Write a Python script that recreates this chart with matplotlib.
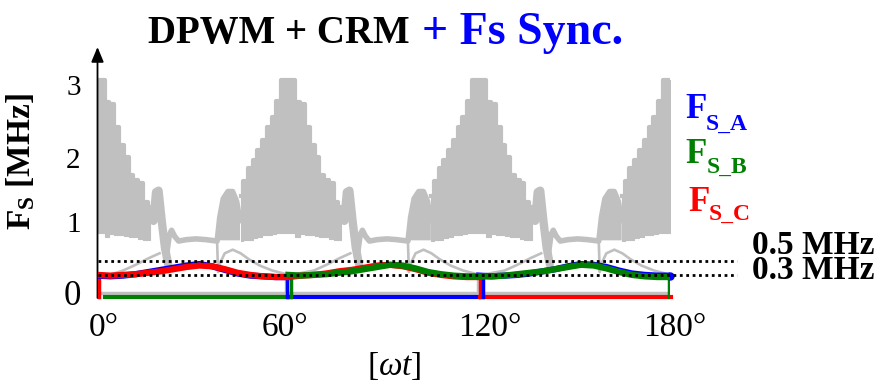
import numpy as np
import matplotlib.pyplot as plt

plt.rcParams["font.family"] = ["Liberation Serif", "DejaVu Serif"]
plt.rcParams["mathtext.fontset"] = "custom"
plt.rcParams["mathtext.rm"] = "Liberation Serif"
plt.rcParams["mathtext.it"] = "Liberation Serif:italic"
plt.rcParams["mathtext.bf"] = "Liberation Serif:bold"

nan = np.nan
W, H = 880, 385

# ---- gray: CRM switching frequency (MHz) over wt (deg) ----
comb0_deg = [0, 1.5, 3, 4.5, 6, 7.5, 9, 10.5, 12, 13.5, 15, 16.5]
comb0_top = [3.01, 3.01, 2.70, 2.68, 2.35, 2.10, 1.94, 1.69, 1.62, 1.58, 1.31, 1.24]
comb0_bot = [0.88, 0.88, 0.83, 0.87, 0.86, 0.85, 0.84, 0.83, 0.82, 0.80, 0.79, 0.78]

comb60_deg = [45, 46.5, 48, 49.5, 51, 52.5, 54, 55.5, 57, 58.5, 60, 61.5,
              63, 64.5, 66, 67.5, 69, 70.5, 72, 73.5, 75, 76.5]
comb60_top = [1.40, 1.60, 1.78, 1.90, 2.03, 2.17, 2.35, 2.50, 2.72, 3.01, 3.01, 3.01,
              2.70, 2.68, 2.35, 2.10, 1.94, 1.69, 1.62, 1.58, 1.31, 1.24]
comb60_bot = [0.77, 0.78, 0.79, 0.81, 0.83, 0.85, 0.86, 0.87, 0.88, 0.88, 0.88, 0.88,
              0.83, 0.87, 0.86, 0.85, 0.84, 0.83, 0.82, 0.80, 0.79, 0.78]

comb120_deg = [105, 106.5, 108, 109.5, 111, 112.5, 114, 115.5, 117, 118.5, 120, 121.5,
               123, 124.5, 126, 127.5, 129, 130.5, 132, 133.5, 135, 136.5]
comb120_top = [1.40, 1.60, 1.78, 1.90, 2.03, 2.17, 2.35, 2.50, 2.72, 3.01, 3.01, 3.01,
               2.70, 2.68, 2.35, 2.10, 1.94, 1.69, 1.62, 1.58, 1.31, 1.24]
comb120_bot = [0.77, 0.78, 0.79, 0.81, 0.83, 0.85, 0.86, 0.87, 0.88, 0.88, 0.88, 0.88,
               0.83, 0.87, 0.86, 0.85, 0.84, 0.83, 0.82, 0.80, 0.79, 0.78]

comb180_deg = [165, 166.5, 168, 169.5, 171, 172.5, 174, 175.5, 177, 178.5, 180]
comb180_top = [1.40, 1.60, 1.78, 1.90, 2.03, 2.17, 2.35, 2.50, 2.72, 3.01, 3.01]
comb180_bot = [0.77, 0.78, 0.79, 0.81, 0.83, 0.85, 0.86, 0.87, 0.88, 0.88, 0.88]

# slanted lobe after each comb
llobe_deg = [17.6, 18.4, 19.2, 20.2, 21.2, 22.2, nan,
             77.6, 78.4, 79.2, 80.2, 81.2, 82.2, nan,
             137.6, 138.4, 139.2, 140.2, 141.2, 142.2]
llobe_mhz = [1.05, 1.45, 1.47, 1.05, 0.68, 0.45, nan,
             1.05, 1.45, 1.47, 1.05, 0.68, 0.45, nan,
             1.05, 1.45, 1.47, 1.05, 0.68, 0.45]

# small bump + flat arch in each valley
arch_deg = [21.8, 22.6, 23.3, 24.2, 25.5, 28, 31, 34, 37.6, nan,
            81.8, 82.6, 83.3, 84.2, 85.5, 88, 91, 94, 97.6, nan,
            141.8, 142.6, 143.3, 144.2, 145.5, 148, 151, 154, 157.6]
arch_mhz = [0.60, 0.86, 0.92, 0.84, 0.77, 0.79, 0.80, 0.79, 0.77, nan,
            0.60, 0.86, 0.92, 0.84, 0.77, 0.79, 0.80, 0.79, 0.77, nan,
            0.60, 0.86, 0.92, 0.84, 0.77, 0.79, 0.80, 0.79, 0.77]

# rounded lobe before each comb
rlobe_deg = [37.6, 38.4, 39.5, 41, 42.5, 43.8, 44.8, nan,
             97.6, 98.4, 99.5, 101, 102.5, 103.8, 104.8, nan,
             157.6, 158.4, 159.5, 161, 162.5, 163.8, 164.8]
rlobe_mhz = [0.78, 1.10, 1.36, 1.46, 1.46, 1.32, 1.05, nan,
             0.78, 1.10, 1.36, 1.46, 1.46, 1.32, 1.05, nan,
             0.78, 1.10, 1.36, 1.46, 1.46, 1.32, 1.05]

# thin low curves (loops)
thin_deg = [4.5, 8, 12, 16, 19.5, nan,
            37.6, 37.9, 38.6, 40, 42.5, 45, 47.5, 51, 55, 58.5, nan,
            62, 68, 72, 76, 79.5, nan,
            97.6, 97.9, 98.6, 100, 102.5, 105, 107.5, 111, 115, 118.5, nan,
            122, 128, 132, 136, 139.5, nan,
            157.6, 157.9, 158.6, 160, 162.5, 165, 167.5, 171, 175, 178.5]
thin_mhz = [0.31, 0.36, 0.44, 0.53, 0.60, nan,
            0.77, 0.34, 0.47, 0.60, 0.65, 0.60, 0.52, 0.43, 0.36, 0.32, nan,
            0.31, 0.36, 0.44, 0.53, 0.60, nan,
            0.77, 0.34, 0.47, 0.60, 0.65, 0.60, 0.52, 0.43, 0.36, 0.32, nan,
            0.31, 0.36, 0.44, 0.53, 0.60, nan,
            0.77, 0.34, 0.47, 0.60, 0.65, 0.60, 0.52, 0.43, 0.36, 0.32]

# ---- synchronised phase frequencies (MHz), nan where the phase is clamped ----
sync_deg = list(range(0, 181, 4))
fs_a = [0.29, 0.28, 0.29, 0.31, 0.34, 0.37, 0.40, 0.43, 0.45, 0.42, 0.37, 0.32, 0.29, 0.28, 0.27, 0.27,
        nan, nan, nan, nan, nan, nan, nan, nan, nan, nan, nan, nan, nan, nan,
        0.29, 0.28, 0.29, 0.30, 0.32, 0.35, 0.38, 0.42, 0.45, 0.44, 0.41, 0.36, 0.32, 0.30, 0.29, 0.29]
fs_b = [nan, nan, nan, nan, nan, nan, nan, nan, nan, nan, nan, nan, nan, nan, nan,
        0.30, 0.29, 0.30, 0.31, 0.33, 0.35, 0.38, 0.41, 0.44, 0.43, 0.39, 0.34, 0.31, 0.29, 0.28, 0.28,
        0.28, 0.29, 0.31, 0.33, 0.35, 0.38, 0.41, 0.44, 0.43, 0.39, 0.34, 0.30, 0.28, 0.27, 0.27]
fs_c = [0.30, 0.29, 0.30, 0.31, 0.33, 0.35, 0.38, 0.41, 0.43, 0.42, 0.38, 0.33, 0.30, 0.28, 0.27, 0.27,
        0.29, 0.30, 0.32, 0.35, 0.37, 0.40, 0.43, 0.44, 0.42, 0.38, 0.33, 0.30, 0.28, 0.27, 0.27,
        nan, nan, nan, nan, nan, nan, nan, nan, nan, nan, nan, nan, nan, nan, nan]

# clamped intervals (Fs = 0)
clamp_a = [60, 120.3]
clamp_b = [2.5, 60.5]
clamp_c = [120.3, 180.3]

ref_levels = [0.5, 0.3]
ref_labels = ["0.5 MHz", "0.3 MHz"]
yticks = [0, 1, 2, 3]
xticks = [0, 60, 120, 180]

GRAY = "#c0c0c0"
BLUE, GREEN, RED = "#0000ff", "#008000", "#ff0000"


def px(x, y):
    return x / W, 1 - y / H


fig = plt.figure(figsize=(W / 100, H / 100), dpi=100)
ax = fig.add_axes([97.5 / W, 81.3 / H, 572.5 / W, 259.2 / H])
ax.set_xlim(0, 180)
ax.set_ylim(-0.1, 3.5)
ax.axis("off")

# gray background traces
ax.plot([0, 180], [0.05, 0.05], color=GRAY, lw=2.5, zorder=1)
for d in [0.2, 59.4, 119.6]:
    ax.plot([d, d], [0.05, 0.29], color=GRAY, lw=2.5, zorder=1)
for xs, top, bot in [(comb0_deg, comb0_top, comb0_bot), (comb60_deg, comb60_top, comb60_bot),
                     (comb120_deg, comb120_top, comb120_bot), (comb180_deg, comb180_top, comb180_bot)]:
    ax.fill_between(xs, bot, top, step="mid", facecolor=GRAY, edgecolor=GRAY, lw=0.8, zorder=2)
    ax.step(xs, top, where="mid", color=GRAY, lw=3, zorder=2)
ax.fill_between(rlobe_deg, 0.78, rlobe_mhz, color=GRAY, lw=0, zorder=2)
ax.plot(rlobe_deg, rlobe_mhz, color=GRAY, lw=3.8, solid_capstyle="round", zorder=2)
ax.plot(llobe_deg, llobe_mhz, color=GRAY, lw=6, solid_capstyle="round", zorder=2)
ax.plot(arch_deg, arch_mhz, color=GRAY, lw=4, solid_capstyle="round", zorder=2)
ax.plot(thin_deg, thin_mhz, color=GRAY, lw=1.9, zorder=2)

# clamped phases at zero
ax.plot(clamp_b, [0, 0], color=GREEN, lw=3, zorder=4, clip_on=False)
ax.plot(clamp_a, [0, 0], color=BLUE, lw=3, zorder=4, clip_on=False)
ax.plot(clamp_c, [0, 0], color=RED, lw=3, zorder=4, clip_on=False)
# transitions
ax.plot([0.4, 0.4], [0, fs_c[0]], color=RED, lw=2.5, zorder=4, clip_on=False)
ax.plot([59.6, 59.6], [fs_a[15], 0], color=BLUE, lw=2.5, zorder=4)
ax.plot([60.8, 60.8], [0, fs_b[15]], color=GREEN, lw=2.5, zorder=4)
ax.plot([120.4, 120.4], [fs_c[30], 0], color=RED, lw=2.5, zorder=4)
ax.plot([121.2, 121.2], [0, fs_a[30]], color=BLUE, lw=2.5, zorder=4)
ax.plot([179.8, 179.8], [fs_b[-1], 0], color=GREEN, lw=2.5, zorder=4)

# synchronised switching frequency
ax.plot(sync_deg, fs_a, color=BLUE, lw=4.5, zorder=5)
ax.plot(sync_deg[-1:], fs_a[-1:], "o", color=BLUE, ms=5, zorder=5, clip_on=False)
ax.plot(sync_deg, fs_c, color=RED, lw=4.5, zorder=6)
ax.plot(sync_deg, fs_b, color=GREEN, lw=4.5, zorder=6)

# reference levels
for lv in ref_levels:
    ax.plot([0, 201], [lv, lv], color="black", lw=2, ls=(0, (1, 1.3)), zorder=8, clip_on=False)

# axes with arrows
ax.annotate("", xy=(190.4, 0), xytext=(0, 0),
            arrowprops=dict(arrowstyle="-|>,head_length=0.6,head_width=0.25", color="black",
                            lw=1.3, mutation_scale=15, shrinkA=0, shrinkB=0), zorder=3)
ax.annotate("", xy=(0, 3.465), xytext=(0, -0.02),
            arrowprops=dict(arrowstyle="-|>,head_length=0.6,head_width=0.25", color="black",
                            lw=1.3, mutation_scale=15, shrinkA=0, shrinkB=0), zorder=3)

# tick labels
ytick_y = [0.0, 0.99, 1.88, 2.90]
for t, yy in zip(yticks, ytick_y):
    ax.text(-5.3, yy, str(t), ha="right", va="center", fontsize=25 if t == 0 else 21)
xtick_x = [2.0, 59.0, 123.4, 181.6]
for t, xx in zip(xticks, xtick_x):
    ax.text(xx, -0.55, f"{t}°", ha="center", va="baseline", fontsize=24)

fig.text(*px(394, 375), r"[$\omega t$]", ha="center", va="baseline", fontsize=24)
fig.text(*px(21, 162), r"F$_\mathbf{S}$ [MHz]", rotation=90, ha="center", va="center",
         fontsize=24, fontweight="bold")

# title
fig.text(*px(148, 43), "DPWM + CRM", ha="left", va="baseline", fontsize=28, fontweight="bold")
fig.text(*px(422, 44), "+ Fs Sync.", ha="left", va="baseline", fontsize=33,
         fontweight="bold", color=BLUE)

# phase labels
for name, col, fx, fy, sx, sy in [("A", BLUE, 685, 118, 706, 130),
                                  ("B", GREEN, 685, 163, 707, 173),
                                  ("C", RED, 688, 211, 709, 220)]:
    fig.text(*px(fx, fy), "F", color=col, fontsize=25, fontweight="bold", va="baseline")
    fig.text(*px(sx, sy), "S_" + name, color=col, fontsize=17, fontweight="bold", va="baseline")

# level labels (one text block, tight line spacing)
fig.text(*px(752, 279), "\n".join(ref_labels), fontsize=24, fontweight="bold",
         va="baseline", linespacing=0.75)

fig.savefig("out.png", dpi=100)
